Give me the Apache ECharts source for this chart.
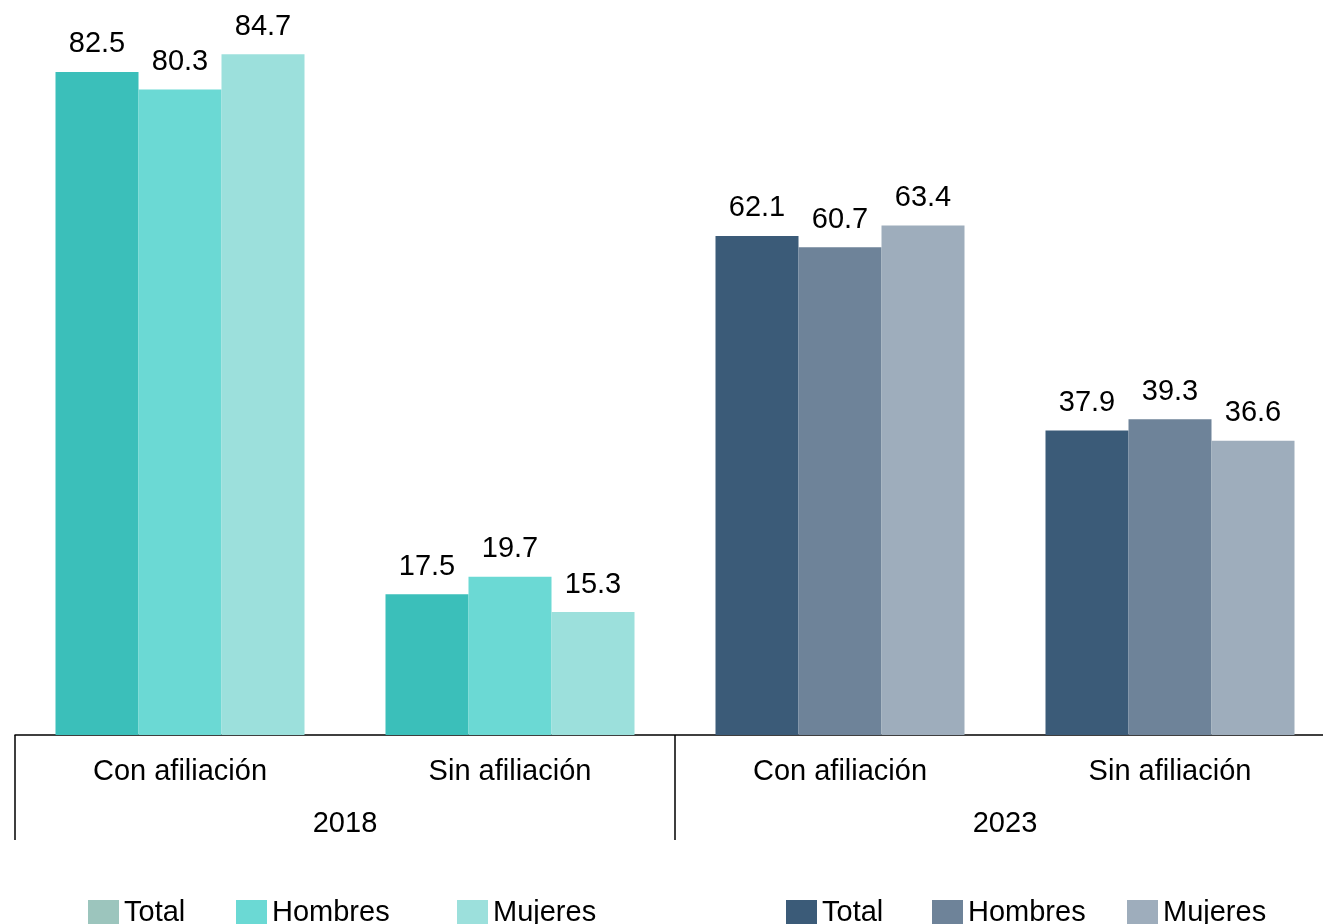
<!DOCTYPE html>
<html lang="es">
<head>
<meta charset="UTF-8">
<title>Afiliación 2018 - 2023</title>
<script src="https://cdn.jsdelivr.net/npm/echarts@6/dist/echarts.min.js"></script>
<style>
    html, body { margin: 0; padding: 0; background: #fff; }
    #chart { width: 1323px; height: 924px; }
</style>
</head>
<body>
<div id="chart"></div>
<script>
    // categorias y datos
    var categories = ['Con afiliación', 'Sin afiliación', 'Con afiliación', 'Sin afiliación'];
    var years = ['2018', '2023'];
    var total2018 = [82.5, 17.5, '-', '-'];
    var hombres2018 = [80.3, 19.7, '-', '-'];
    var mujeres2018 = [84.7, 15.3, '-', '-'];
    var total2023 = ['-', '-', 62.1, 37.9];
    var hombres2023 = ['-', '-', 60.7, 39.3];
    var mujeres2023 = ['-', '-', 63.4, 36.6];

    var font = 'Liberation Sans, Arial, sans-serif';

    function makeSeries(name, stack, color, data) {
        return {
            name: name,
            type: 'bar',
            stack: stack,
            barWidth: 83,
            barGap: 0,
            itemStyle: { color: color },
            label: {
                show: true,
                position: 'top',
                distance: 13,
                color: '#000',
                fontSize: 29,
                fontFamily: font,
                formatter: function (p) { return p.value.toFixed(1); }
            },
            data: data
        };
    }

    function makeLegend(name, left, swatch) {
        return {
            data: [{ name: name, icon: 'rect', itemStyle: { color: swatch } }],
            left: left,
            top: 893,
            itemWidth: 31,
            itemHeight: 25,
            itemGap: 0,
            textStyle: { fontSize: 29, fontFamily: font, color: '#000', padding: [0, 0, 0, 0] },
            formatter: function (n) { return n.split(' ')[0]; }
        };
    }

    var chart = echarts.init(document.getElementById('chart'));

    var option = {
        animation: false,
        grid: { left: 15, top: 0, width: 1320, height: 735, outerBoundsMode: 'none', containLabel: false },
        legend: [
            makeLegend('Total 2018', 83, '#9cc5bd'),
            makeLegend('Hombres 2018', 231, '#6bd9d4'),
            makeLegend('Mujeres 2018', 452, '#9ce0dc'),
            makeLegend('Total 2023', 781, '#3b5b78'),
            makeLegend('Hombres 2023', 927, '#6e8399'),
            makeLegend('Mujeres 2023', 1122, '#9eadbc')
        ],
        xAxis: [
            {
                type: 'category',
                data: categories,
                position: 'bottom',
                axisLine: { show: true, lineStyle: { color: '#000', width: 1.5 } },
                axisTick: { show: false },
                axisLabel: { margin: 22, fontSize: 29, fontFamily: font, color: '#000' }
            },
            {
                type: 'category',
                data: years,
                position: 'bottom',
                axisLine: { show: false },
                axisTick: { show: true, length: 105, lineStyle: { color: '#000', width: 1.5 } },
                axisLabel: { margin: 74, fontSize: 29, fontFamily: font, color: '#000' }
            }
        ],
        yAxis: {
            type: 'value',
            min: 0,
            max: 91.45,
            show: false
        },
        series: [
            makeSeries('Total 2018', 'total', '#3bbfba', total2018),
            makeSeries('Hombres 2018', 'hombres', '#6bd9d4', hombres2018),
            makeSeries('Mujeres 2018', 'mujeres', '#9ce0dc', mujeres2018),
            makeSeries('Total 2023', 'total', '#3b5b78', total2023),
            makeSeries('Hombres 2023', 'hombres', '#6e8399', hombres2023),
            makeSeries('Mujeres 2023', 'mujeres', '#9eadbc', mujeres2023)
        ]
    };

    chart.setOption(option);
</script>
</body>
</html>
